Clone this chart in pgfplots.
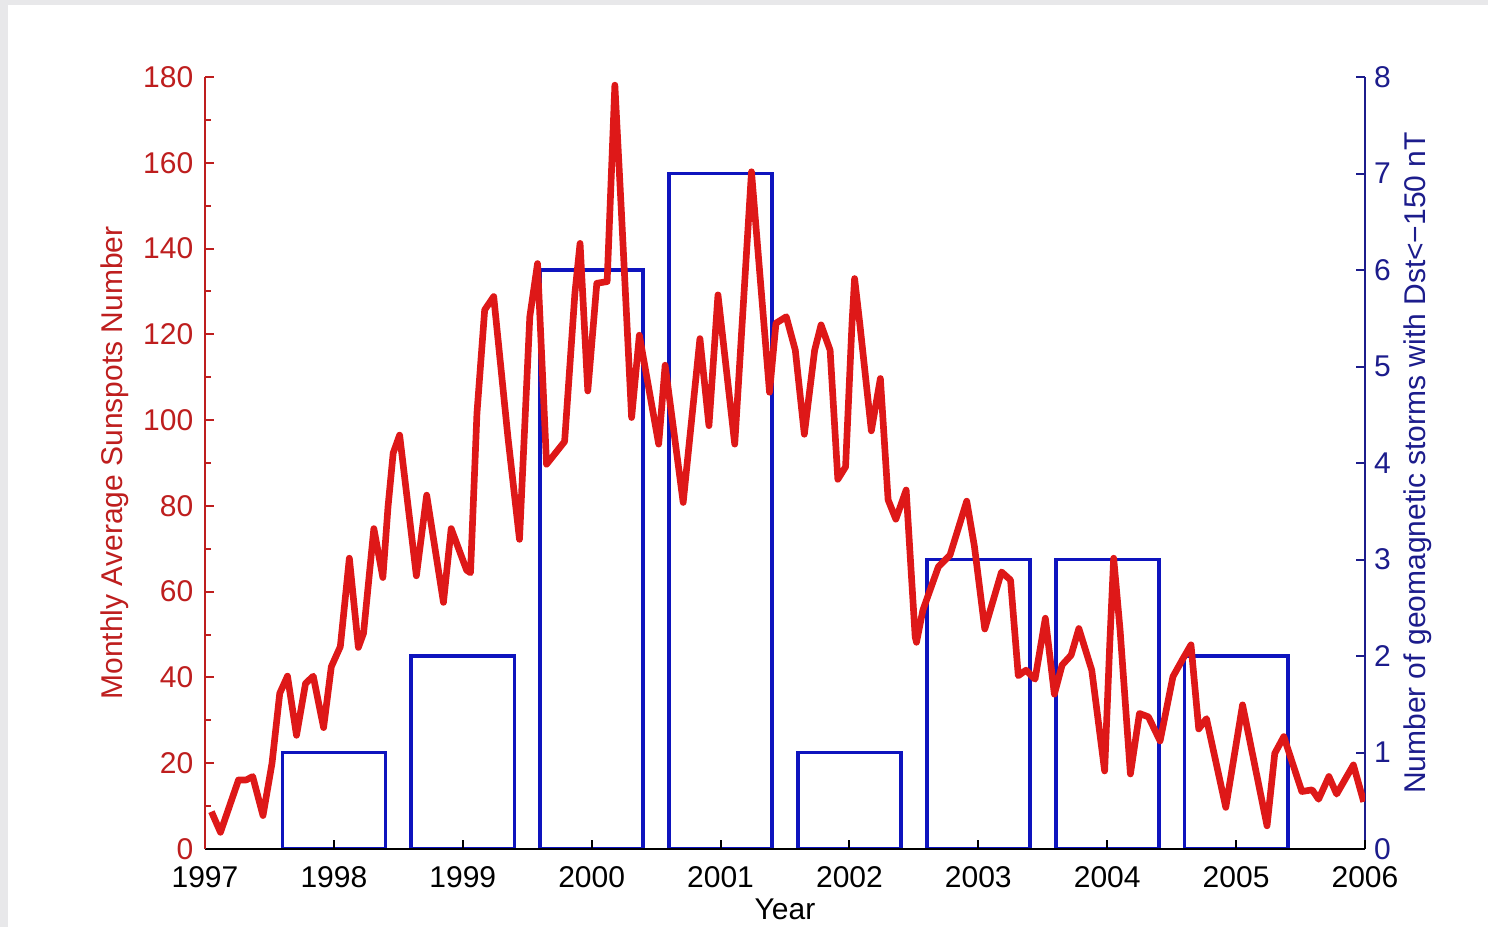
\documentclass[border=0pt]{standalone}
\usepackage{fontspec}
\setmainfont{Liberation Sans}
\usepackage{pgfplots}
\pgfplotsset{compat=1.18}

\definecolor{sunred}{RGB}{222,24,24}
\definecolor{axred}{RGB}{190,30,30}
\definecolor{barblue}{RGB}{14,20,190}
\definecolor{axnavy}{RGB}{28,28,140}
\definecolor{framegray}{RGB}{232,232,234}

\pgfplotsset{
  common/.style={
    scale only axis, width=348pt, height=231.6pt,
    xmin=1997, xmax=2006,
    tick align=inside,
    major tick length=2.6pt, minor tick length=1.8pt,
    /pgf/number format/assume math mode=true,
    tick label style={font=\fontsize{9}{10}\selectfont},
    label style={font=\fontsize{9}{10}\selectfont},
  },
}

\begin{document}
\begin{tikzpicture}
% page background with a thin grey frame at the top and left
\fill[framegray] (-61.5pt,-23.4pt) rectangle (384.9pt,254.7pt);
\fill[white] (-59.1pt,-23.4pt) rectangle (384.9pt,253.2pt);

% storm counts per year (right axis)
\begin{axis}[common,
  ymin=0, ymax=8,
  axis x line=none, axis y line*=right,
  ytick={0,1,...,8},
  y axis line style={axnavy, line width=0.6pt},
  ytick style={axnavy, line width=0.6pt},
  yticklabel style={axnavy, xshift=-0.8pt},
  ylabel={Number of geomagnetic storms with Dst<−150 nT},
  ylabel style={axnavy, yshift=3pt},
]
\addplot[ybar, bar width=0.8, draw=barblue, line width=1.1pt, fill=none]
  coordinates {(1998,1) (1999,2) (2000,6) (2001,7) (2002,1) (2003,3) (2004,3) (2005,2)};
\end{axis}

% monthly sunspot number (left axis)
\begin{axis}[common,
  ymin=0, ymax=180,
  axis x line*=bottom, axis y line*=left,
  xtick={1997,1998,...,2006},
  xticklabel style={/pgf/number format/1000 sep={}, yshift=-1.8pt},
  ytick={0,20,...,180}, minor y tick num=1,
  x axis line style={black, line width=0.6pt},
  xtick style={black, line width=0.6pt},
  y axis line style={axred, line width=0.6pt},
  ytick style={axred, line width=0.6pt},
  yticklabel style={axred},
  xlabel={Year},
  xlabel style={yshift=3.6pt},
  ylabel={Monthly Average Sunspots Number},
  ylabel style={axred, yshift=-2.4pt},
]
\addplot[sunred, line width=2pt, line join=round, no markers] table {
x y
1997.05 8.7
1997.12 3.9
1997.26 16.1
1997.32 16.1
1997.37 16.9
1997.45 7.8
1997.52 20.0
1997.58 36.3
1997.64 40.3
1997.71 26.5
1997.78 38.6
1997.84 40.3
1997.92 28.3
1997.98 42.5
1998.05 47.2
1998.12 67.8
1998.19 47.0
1998.23 50.3
1998.31 74.7
1998.38 63.3
1998.42 79.8
1998.46 92.3
1998.51 96.5
1998.64 63.7
1998.72 82.5
1998.85 57.5
1998.91 74.7
1999.03 65.0
1999.06 64.4
1999.11 101.6
1999.17 125.7
1999.24 128.8
1999.35 96.1
1999.44 72.2
1999.52 124.1
1999.58 136.5
1999.65 89.7
1999.79 95.0
1999.87 129.6
1999.91 141.2
1999.97 106.8
2000.04 131.9
2000.12 132.3
2000.18 178.1
2000.23 149.0
2000.31 100.6
2000.37 119.8
2000.52 94.4
2000.57 112.8
2000.71 80.8
2000.84 119.0
2000.91 98.7
2000.98 129.2
2001.11 94.4
2001.24 157.9
2001.38 106.5
2001.43 122.6
2001.51 124.1
2001.58 116.3
2001.65 96.7
2001.73 116.3
2001.78 122.2
2001.85 116.3
2001.91 86.2
2001.97 89.1
2002.02 122.6
2002.04 133.0
2002.08 122.6
2002.17 97.5
2002.24 109.7
2002.30 81.4
2002.36 76.9
2002.44 83.7
2002.51 49.5
2002.52 48.2
2002.57 55.7
2002.69 65.8
2002.78 68.5
2002.91 81.1
2002.97 70.5
2003.05 51.3
2003.18 64.6
2003.25 62.7
2003.31 40.4
2003.37 41.7
2003.44 39.6
2003.52 53.8
2003.59 36.1
2003.65 42.9
2003.72 45.2
2003.78 51.4
2003.88 41.7
2003.98 18.2
2004.02 48.0
2004.05 67.8
2004.10 51.0
2004.18 17.5
2004.25 31.6
2004.32 30.8
2004.41 25.2
2004.51 40.2
2004.59 44.5
2004.65 47.6
2004.71 28.0
2004.77 30.4
2004.92 9.7
2005.05 33.6
2005.24 5.4
2005.30 22.3
2005.37 26.2
2005.51 13.4
2005.59 13.8
2005.64 11.6
2005.72 16.9
2005.78 12.8
2005.91 19.6
2005.99 11.0
};
\end{axis}

\pgfresetboundingbox
\useasboundingbox (-61.5pt,-23.4pt) rectangle (384.9pt,254.7pt);
\end{tikzpicture}
\end{document}
